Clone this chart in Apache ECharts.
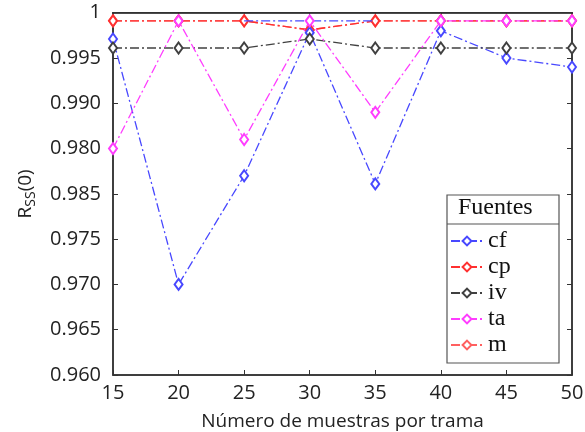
<!DOCTYPE html>
<html><head><meta charset="utf-8">
<script src="https://cdn.jsdelivr.net/npm/echarts@6/dist/echarts.min.js"></script>
<style>html,body{margin:0;padding:0;background:#fff}#c{width:585px;height:432px}</style>
</head><body><div id="c"></div>
<script>
var categories = [15, 20, 25, 30, 35, 40, 45, 50];
var cf = [0.9971, 0.9700, 0.9820, 0.9978, 0.9811, 0.9980, 0.9950, 0.9940];
var cp = [0.9991, 0.9991, 0.9991, 0.9981, 0.9991, 0.9991, 0.9991, 0.9991];
var iv = [0.9961, 0.9961, 0.9961, 0.9971, 0.9961, 0.9961, 0.9961, 0.9961];
var ta = [0.9850, 0.9991, 0.9860, 0.9991, 0.9890, 0.9991, 0.9991, 0.9991];
var m  = [0.9991, 0.9991, 0.9991, 0.9981, 0.9991, 0.9991, 0.9991, 0.9991];
var cfTop = [null, null, 0.9991, 0.9991, 0.9991, null, null, null];
var yTickLabels = ['0.960', '0.965', '0.970', '0.975', '0.985', '0.980', '0.990', '0.995', '1'];
var xTickLabels = ['15', '20', '25', '30', '35', '40', '45', '50'];
var seriesNames = ['cf', 'cp', 'iv', 'ta', 'm'];

function pairs(arr) { return arr.map(function (v, i) { return [categories[i], v]; }); }

var dash = [9, 3, 2, 3];
var colors = { cf: '#4848ff', cp: '#ff3030', iv: '#404040', ta: '#ff3cff', m: '#ff6060', cfTop: '#4848ff' };
function mk(name, data, color, z, sym) {
  return {
    name: name, type: 'line', data: pairs(data), z: z,
    symbol: sym === false ? 'none' : 'emptyDiamond', symbolSize: [8, 11],
    showSymbol: sym !== false, connectNulls: false,
    lineStyle: { color: color, width: 1.3, type: dash },
    itemStyle: { color: color, borderColor: color, borderWidth: 1.2 },
    emphasis: { disabled: true }, animation: false
  };
}

var chart = echarts.init(document.getElementById('c'));
var tickFont = { fontFamily: 'Open Sans', fontSize: 20, color: '#222' };
chart.setOption({
  animation: false,
  grid: { left: 113, right: 13, top: 12.7, bottom: 57, containLabel: false, outerBoundsMode: 'none', show: true, borderColor: '#333', borderWidth: 1.5, backgroundColor: '#fff' },
  xAxis: [{
    type: 'value', min: 15, max: 50, interval: 5,
    name: 'Número de muestras por trama', nameLocation: 'middle', nameGap: 37,
    nameTextStyle: { fontFamily: 'Open Sans', fontSize: 19, color: '#222' },
    axisLine: { lineStyle: { color: '#333', width: 1.5 } },
    axisTick: { inside: true, length: 5, lineStyle: { color: '#333' } },
    axisLabel: Object.assign({ margin: 8, formatter: function (v) { var i = categories.indexOf(v); return i >= 0 ? xTickLabels[i] : ''; } }, tickFont),
    splitLine: { show: false }
  }, {
    type: 'value', position: 'top', min: 15, max: 50, interval: 5,
    axisLine: { lineStyle: { color: '#333', width: 1.5 } },
    axisTick: { inside: true, length: 5, lineStyle: { color: '#333' } },
    axisLabel: { show: false }, splitLine: { show: false }
  }],
  yAxis: [{
    type: 'value', min: 0.96, max: 1.0, interval: 0.005,
    name: '{a|R}{b|SS}{a|(0)}', nameLocation: 'middle', nameGap: 74, nameRotate: 90,
    nameTextStyle: { rich: {
      a: { fontFamily: 'Open Sans', fontSize: 19, color: '#222', lineHeight: 26 },
      b: { fontFamily: 'Open Sans', fontSize: 14, color: '#222', lineHeight: 26, padding: [10, 0, 0, 0] }
    } },
    axisLine: { lineStyle: { color: '#333', width: 1.5 } },
    axisTick: { inside: true, length: 5, lineStyle: { color: '#333' } },
    axisLabel: Object.assign({ margin: 12, formatter: function (v) { var i = Math.round((v - 0.96) / 0.005); return yTickLabels[i] || ''; } }, tickFont),
    splitLine: { show: false }
  }, {
    type: 'value', position: 'right', min: 0.96, max: 1.0, interval: 0.005,
    axisLine: { lineStyle: { color: '#333', width: 1.5 } },
    axisTick: { inside: true, length: 5, lineStyle: { color: '#333' } },
    axisLabel: { show: false }, splitLine: { show: false }
  }],
  legend: {
    data: seriesNames, orient: 'vertical', left: 450, top: 229, z: 100,
    itemWidth: 32, itemHeight: 11, itemGap: 2, padding: 0,
    textStyle: { fontFamily: 'Liberation Serif', fontSize: 24, color: '#111', lineHeight: 24 },
    selectedMode: false
  },
  graphic: [
    { type: 'rect', z: 1, shape: { x: 447, y: 195, width: 112, height: 168 }, style: { fill: '#fff', stroke: '#555', lineWidth: 1.2 } },
    { type: 'line', z: 2, shape: { x1: 447, y1: 224, x2: 559, y2: 224 }, style: { stroke: '#555', lineWidth: 1.2 } },
    { type: 'text', z: 2, left: 458, top: 196, style: { text: 'Fuentes', font: '24px "Liberation Serif"', fill: '#111' } }
  ],
  series: [
    mk('m', m, colors.m, 2),
    mk('cp', cp, colors.cp, 3),
    mk('cf', cf, colors.cf, 4),
    mk('cfTop', cfTop, colors.cfTop, 5, false),
    mk('iv', iv, colors.iv, 6),
    mk('ta', ta, colors.ta, 7)
  ]
});
</script></body></html>
